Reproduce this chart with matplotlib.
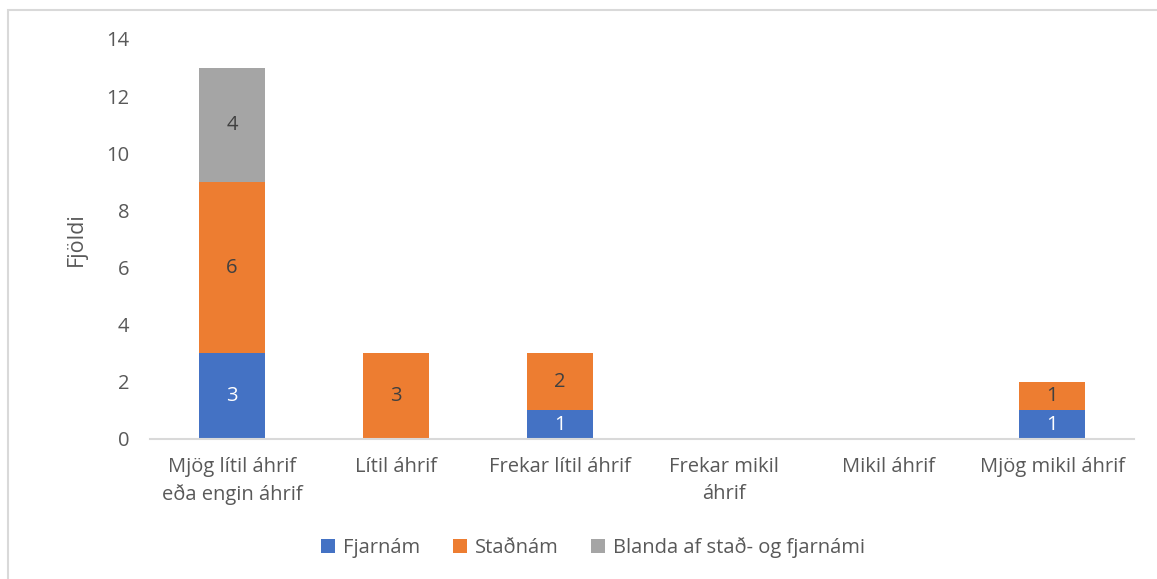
import numpy as np
import matplotlib.pyplot as plt
from matplotlib.patches import Rectangle

categories = ['Mjög lítil áhrif\neða engin áhrif', 'Lítil áhrif', 'Frekar lítil áhrif',
              'Frekar mikil\náhrif', 'Mikil áhrif', 'Mjög mikil áhrif']
fjarnam = [3, 0, 1, 0, 0, 1]
stadnam = [6, 3, 2, 0, 0, 1]
blanda = [4, 0, 0, 0, 0, 0]
series_names = ['Fjarnám', 'Staðnám', 'Blanda af stað- og fjarnámi']
colors = ['#4472C4', '#ED7D31', '#A5A5A5']
label_colors = ['white', '#404040', '#404040']

plt.rcParams['font.family'] = ['Open Sans', 'DejaVu Sans']
text_color = '#595959'
fs = 14.5

fig = plt.figure(figsize=(11.57, 5.79), dpi=100)
ax = fig.add_axes([150 / 1157, 1 - 439 / 579, 984 / 1157, 400 / 579])

# light frame around the whole chart area
fig.patches.append(Rectangle((8 / 1157, -0.05), 1.2, 1 - 10 / 579 + 0.05,
                             transform=fig.transFigure, fill=False,
                             edgecolor='#D9D9D9', linewidth=1.5))

x = np.arange(len(categories))
bottom = np.zeros(len(categories))
for vals, name, col, lc in zip([fjarnam, stadnam, blanda], series_names, colors, label_colors):
    vals = np.array(vals, dtype=float)
    ax.bar(x, vals, 0.4, bottom=bottom, color=col, label=name)
    for i, v in enumerate(vals):
        if v > 0:
            ax.text(x[i], bottom[i] + v / 2, f'{int(v)}', ha='center', va='center',
                    color=lc, fontsize=fs)
    bottom += vals

ax.set_xlim(-0.5, len(categories) - 0.5)
ax.set_ylim(0, 14)
ax.set_yticks(range(0, 15, 2))
ax.set_xticks(x)
ax.set_xticklabels(categories, fontsize=fs, color=text_color, linespacing=1.45)
ax.tick_params(axis='y', labelsize=fs, colors=text_color, length=0, pad=15)
ax.tick_params(axis='x', length=0, pad=13)
for s in ['top', 'right', 'left']:
    ax.spines[s].set_visible(False)
ax.spines['bottom'].set_color('#D9D9D9')
ax.spines['bottom'].set_linewidth(1.5)

ax.set_ylabel('Fjöldi', fontsize=15.5, color=text_color, labelpad=14)

fig.legend(loc='center', bbox_to_anchor=(593 / 1157, 1 - 548 / 579), ncol=3,
           frameon=False, fontsize=fs, handlelength=0.7, handleheight=0.7,
           handletextpad=0.4, columnspacing=1.6, labelcolor=text_color)

fig.savefig('out.png', dpi=100)
